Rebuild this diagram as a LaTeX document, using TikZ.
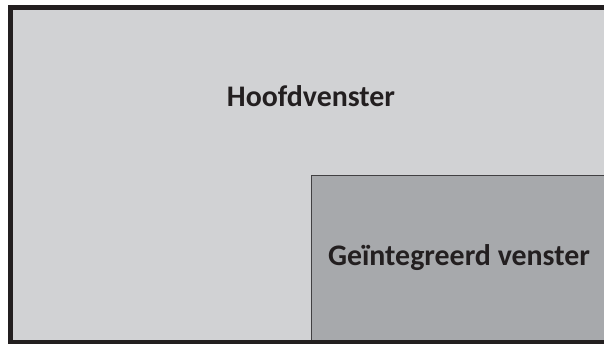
\documentclass[tikz,border=0pt]{standalone}
\usepackage{fontspec}
\setmainfont{Carlito}
\usetikzlibrary{positioning}

\definecolor{mainfill}{HTML}{D1D2D4}
\definecolor{subfill}{HTML}{A7A9AC}
\definecolor{framecol}{HTML}{231F20}
\definecolor{subframe}{HTML}{414042}

\tikzset{
  winlabel/.style={font=\bfseries\fontsize{17}{20}\selectfont, text=framecol, inner sep=0pt}
}

\begin{document}
\begin{tikzpicture}[x=0.02cm, y=-0.02cm]

        \useasboundingbox (0,0) rectangle (604,344);
        \clip (0,0) rectangle (604,344);
        \fill[white] (0,0) rectangle (604,344);

        % Main window
        \fill[mainfill] (10,7) rectangle (612,352);

        % Integrated window
        \draw[subframe, fill=subfill, line width=0.03cm] (311.5,175.5) rectangle (612,352);

        % Outer frame
        \draw[framecol, line width=0.1cm] (10.5,7.5) rectangle (614,342.5);

        % Labels
        \node[winlabel] (hoofd) at (311,96) {Hoofdvenster};
        \node[winlabel] (integr) at (459,258) {Geïntegreerd venster};

    \end{tikzpicture}
\end{document}
